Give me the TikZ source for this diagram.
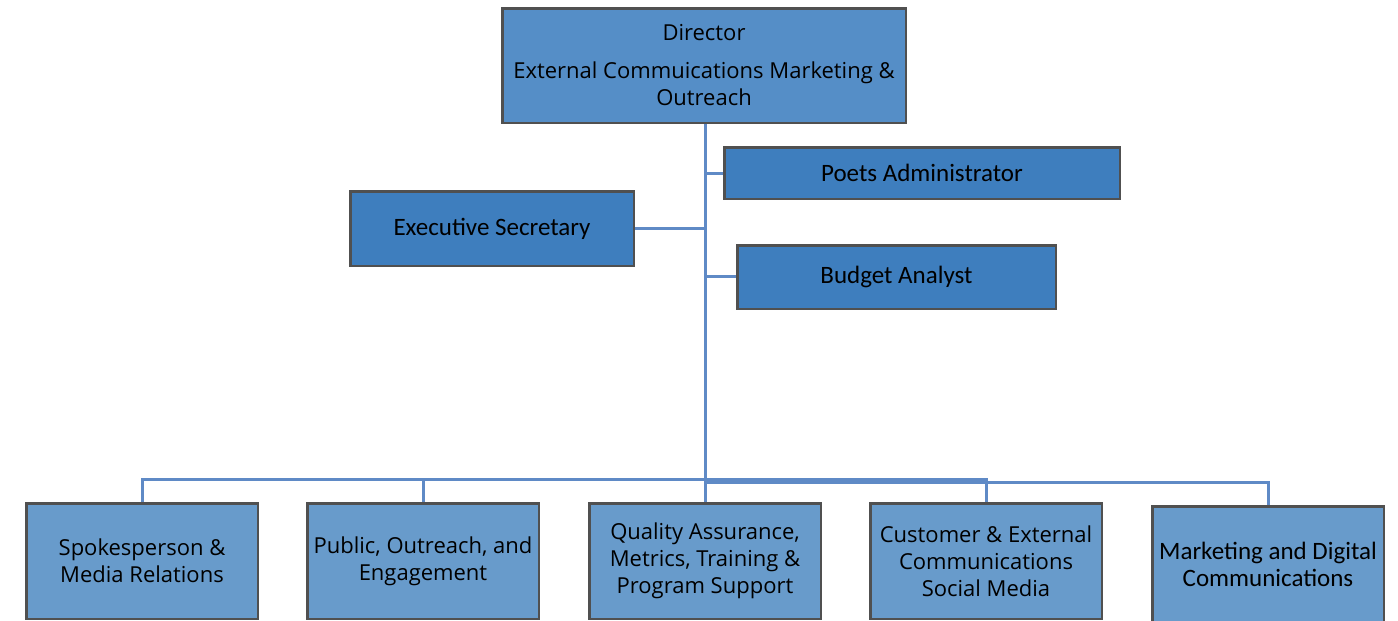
\documentclass[tikz,border=0pt]{standalone}
\usepackage{fontspec}
\setmainfont{Open Sans}
\newfontfamily\calfont{Carlito}
\definecolor{dirfill}{RGB}{85,142,199}
\definecolor{midfill}{RGB}{62,126,190}
\definecolor{lowfill}{RGB}{104,155,203}
\definecolor{boxline}{RGB}{80,80,80}
\definecolor{conn}{RGB}{95,138,198}
\begin{document}
\begin{tikzpicture}[x=1pt,y=-1pt,
  box/.style={draw=boxline,line width=2.5pt,inner sep=0pt,align=center,text=black},
  dirbox/.style={box,fill=dirfill,minimum width=403.5pt,minimum height=114.5pt,font=\fontsize{22}{27}\selectfont},
  midbox/.style={box,fill=midfill,font=\calfont\fontsize{25}{27}\selectfont},
  lowbox/.style={box,fill=lowfill,minimum width=231.5pt,minimum height=115.5pt,font=\fontsize{22}{27}\selectfont},
  link/.style={draw=conn,line width=3pt}]
\useasboundingbox (0,0) rectangle (1398,621);
\fill[white] (0,0) rectangle (1398,621);
\coordinate (busa) at (0,479);
\coordinate (busb) at (0,482);
\node[dirbox] (dir) at (704,65.5) {Director\\[11pt]External Commuications Marketing \&\\Outreach};
\node[midbox,minimum width=395.5pt,minimum height=51.5pt] (poets) at (922,173) {Poets Administrator};
\node[midbox,minimum width=283.5pt,minimum height=74.5pt] (exec) at (492,228.5) {Executive Secretary};
\node[midbox,minimum width=318.5pt,minimum height=63.5pt] (budget) at (896.5,277) {Budget Analyst};
\node[lowbox] (spokes) at (142,561) {Spokesperson \&\\Media Relations};
\node[lowbox] (public) at (423,561) {Public, Outreach, and\\Engagement};
\node[lowbox] (quality) at (705,561) {Quality Assurance,\\Metrics, Training \&\\Program Support};
\node[lowbox] (cust) at (986,561) {Customer \& External\\Communications\\Social Media};
\node[box,fill=lowfill,minimum width=231.5pt,minimum height=117pt,font=\calfont\fontsize{25}{27}\selectfont] (market) at (1268,564.75) {Marketing and Digital\\Communications};
\coordinate (tp) at (705,173);
\coordinate (te) at (705,228);
\coordinate (tb) at (705,276);
\draw[link] (dir.south -| quality.north) -- (quality.north);
\draw[link] (tp) -- (poets.west |- tp);
\draw[link] (exec.east |- te) -- (te);
\draw[link] (tb) -- (budget.west |- tb);
\draw[link] (spokes.north) -- (spokes.north |- busa) -- (cust.north |- busa) -- (cust.north);
\draw[link] (public.north |- busa) -- (public.north);
\draw[link] (quality.north |- busb) -- (market.north |- busb) -- (market.north);
\end{tikzpicture}
\end{document}
